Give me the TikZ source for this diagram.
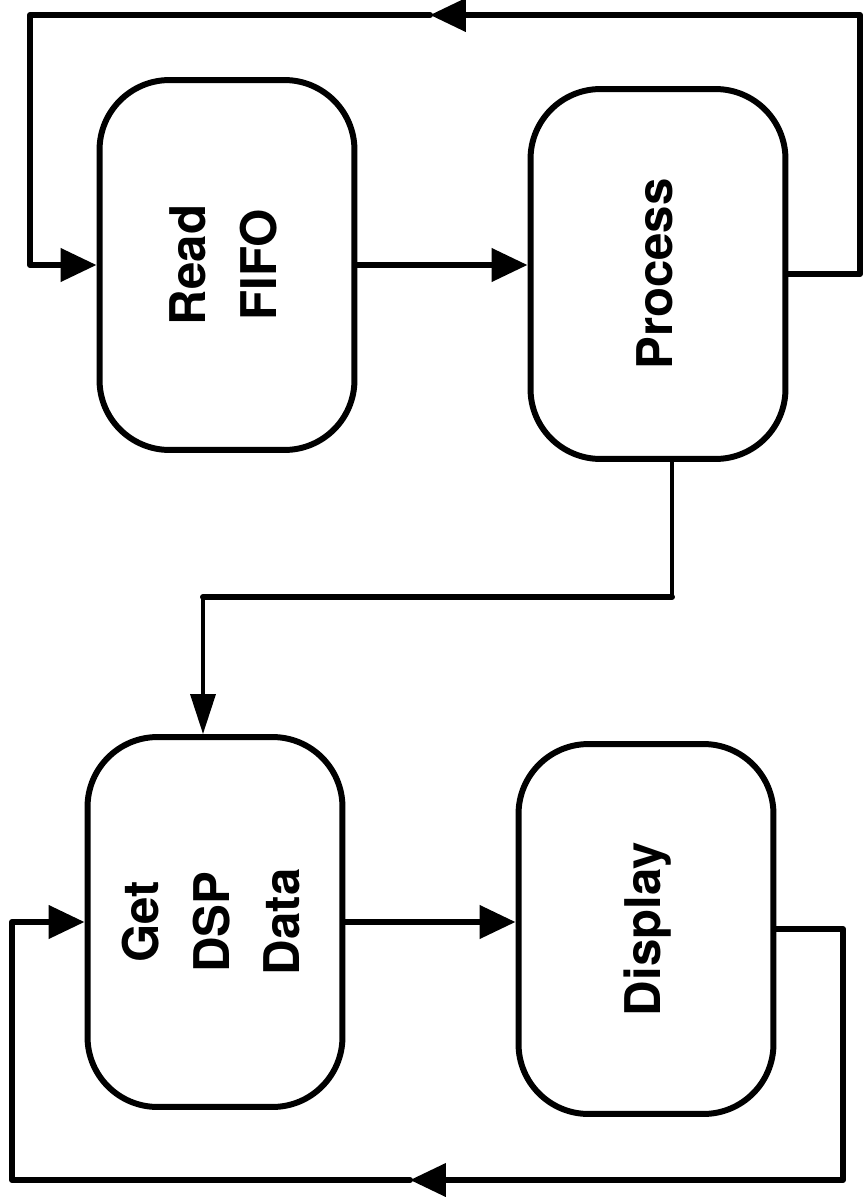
\documentclass[tikz,border=0pt]{standalone}
\usepackage{fontspec}
\setmainfont{TeX Gyre Heros}
\usepackage{graphicx}
\usetikzlibrary{arrows.meta}

\tikzset{
  stage/.style={draw, line width=3.4pt, rounded corners=1.4cm,
    minimum width=5.1cm, minimum height=7.4cm, inner sep=0pt,
    font=\fontsize{28}{40}\selectfont\bfseries, align=center},
  flow/.style={line width=3.4pt, line cap=round, line join=round},
  thinflow/.style={line width=2pt, line cap=round, line join=round}
}
\newcommand{\upright}[1]{\rotatebox{90}{\begin{tabular}{@{}c@{}}#1\end{tabular}}}

\begin{document}
\begin{tikzpicture}[x=0.02cm,y=-0.02cm,>={Triangle[length=0.72cm,width=0.65cm]}]
			\useasboundingbox (0,0) rectangle (864,1197);
			% the four stages
			\node[stage] (read) at (227,265) {\upright{Read\\FIFO}};
			\node[stage] (proc) at (658,274) {\upright{Process}};
			\node[stage] (get) at (215,922) {\upright{Get\\DSP\\Data}};
			\node[stage] (disp) at (646,929) {\upright{Display}};
			% corners of the loops
			\coordinate (tr) at (860,15);
			\coordinate (tm) at (430,15);
			\coordinate (tl) at (30,15);
			\coordinate (pd) at (672,597);
			\coordinate (gd) at (203,597);
			\coordinate (br) at (843,1180);
			\coordinate (bm) at (410,1180);
			\coordinate (bl) at (12,1180);
			% upper loop
			\draw[flow,->] (read.east) -- (read.east -| proc.west);
			\draw[flow,->] (proc.east) -| (tr) -- (tm);
			\draw[flow,->] (tm) -- (tl) |- (read.west);
			% hand over to the lower loop
			\draw[thinflow] (proc.south -| pd) -- (pd);
			\draw[flow] (pd) -- (gd);
			\draw[thinflow,-{Triangle[length=0.8cm,width=0.5cm]}] (gd) -- (gd |- get.north);
			% lower loop
			\draw[flow,->] (get.east) -- (get.east -| disp.west);
			\draw[flow,->] (disp.east) -| (br) -- (bm);
			\draw[flow,->] (bm) -- (bl) |- (get.west);
\end{tikzpicture}
\end{document}
